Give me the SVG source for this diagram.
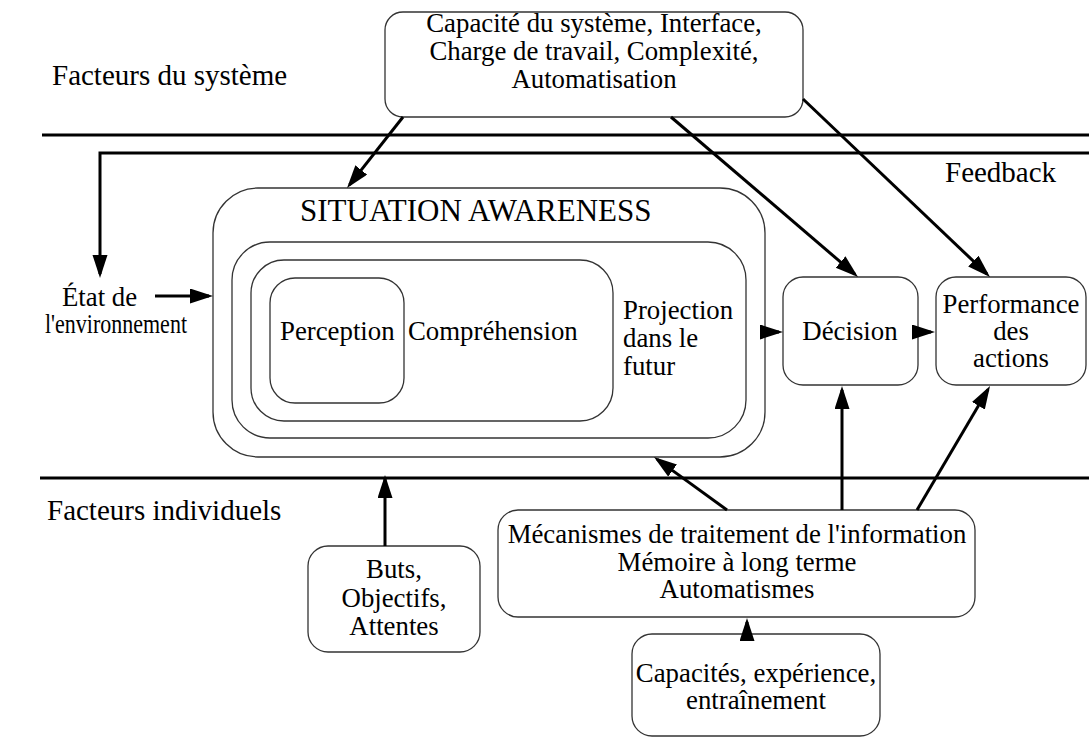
<svg xmlns="http://www.w3.org/2000/svg" width="1089" height="738" viewBox="0 0 1089 738">
  <defs>
    <marker id="ah" markerUnits="userSpaceOnUse" markerWidth="26" markerHeight="16" refX="19" refY="7.5" orient="auto">
      <path d="M0,0 L23,7.5 L0,15 Z" fill="#000"/>
    </marker>
    <style>
      text { font-family: "Liberation Serif", "Times New Roman", serif; fill: #000; }
      .t { font-size: 26.8px; }
      .side { font-size: 29px; }
      .title { font-size: 31px; }
      .c { text-anchor: middle; }
      .box { fill: #fff; stroke: #333; stroke-width: 1.3; }
      .bar { stroke: #000; stroke-width: 3; fill: none; }
      .arr { stroke: #000; stroke-width: 3; fill: none; marker-end: url(#ah); }
    </style>
  </defs>
  <rect width="1089" height="738" fill="#fff"/>

  <g id="bands">
    <line class="bar" x1="42" y1="135" x2="1089" y2="135"/>
    <line class="bar" x1="40" y1="478" x2="1089" y2="478"/>
    <text class="side" x="52" y="85">Facteurs du système</text>
    <text class="side" x="945" y="182">Feedback</text>
    <text class="side" x="47" y="520">Facteurs individuels</text>
  </g>

  <g id="env">
    <text class="t" x="62" y="306">État de</text>
    <text class="t" x="45" y="333" textLength="142" lengthAdjust="spacingAndGlyphs">l'environnement</text>
  </g>

  <g id="sa">
    <rect class="box" x="213" y="188" width="552" height="269" rx="45" ry="45"/>
    <text class="title" x="300" y="221">SITUATION AWARENESS</text>
    <rect class="box" x="232" y="242" width="514" height="196" rx="38" ry="38"/>
    <rect class="box" x="251" y="260" width="362" height="161" rx="33" ry="33"/>
    <rect class="box" x="270" y="278" width="134" height="125" rx="25" ry="25"/>
    <text class="t" x="280" y="340">Perception</text>
    <text class="t" x="408" y="340">Compréhension</text>
    <text class="t" x="623" y="319">Projection</text>
    <text class="t" x="623" y="347">dans le</text>
    <text class="t" x="623" y="375">futur</text>
  </g>

  <g id="system">
    <rect class="box" x="385" y="12" width="418" height="105" rx="18" ry="18"/>
    <text class="t c" x="594" y="32">Capacité du système, Interface,</text>
    <text class="t c" x="594" y="60">Charge de travail, Complexité,</text>
    <text class="t c" x="594" y="88">Automatisation</text>
  </g>

  <g id="decision">
    <rect class="box" x="783" y="277" width="135" height="108" rx="20" ry="20"/>
    <text class="t c" x="850" y="340">Décision</text>
  </g>

  <g id="performance">
    <rect class="box" x="936" y="277" width="150" height="108" rx="20" ry="20"/>
    <text class="t c" x="1011" y="313">Performance</text>
    <text class="t c" x="1011" y="340">des</text>
    <text class="t c" x="1011" y="367">actions</text>
  </g>

  <g id="buts">
    <rect class="box" x="308" y="546" width="172" height="106" rx="20" ry="20"/>
    <text class="t c" x="394" y="578">Buts,</text>
    <text class="t c" x="394" y="607">Objectifs,</text>
    <text class="t c" x="394" y="635">Attentes</text>
  </g>

  <g id="mecanismes">
    <rect class="box" x="498" y="510" width="477" height="107" rx="20" ry="20"/>
    <text class="t c" x="737" y="543">Mécanismes de traitement de l'information</text>
    <text class="t c" x="737" y="571">Mémoire à long terme</text>
    <text class="t c" x="737" y="598">Automatismes</text>
  </g>

  <g id="capacites">
    <rect class="box" x="632" y="634" width="248" height="102" rx="20" ry="20"/>
    <text class="t c" x="756" y="682">Capacités, expérience,</text>
    <text class="t c" x="756" y="709">entraînement</text>
  </g>

  <g id="connectors">
    <path class="arr" d="M1089,153 H100 V274"/>
    <line class="arr" x1="155" y1="296" x2="209" y2="296"/>
    <line class="arr" x1="403" y1="117" x2="349.5" y2="184.9"/>
    <line class="arr" x1="671" y1="117" x2="855" y2="274.4"/>
    <line class="arr" x1="803" y1="99" x2="987.1" y2="274.2"/>
    <line class="arr" x1="765" y1="332" x2="779" y2="332"/>
    <line class="arr" x1="918" y1="332" x2="931" y2="332"/>
    <line class="arr" x1="385" y1="546" x2="385" y2="479"/>
    <line class="arr" x1="727" y1="510" x2="657.2" y2="459.4"/>
    <line class="arr" x1="842" y1="510" x2="842" y2="390"/>
    <line class="arr" x1="917" y1="510" x2="988" y2="389.4"/>
    <line class="arr" x1="747" y1="636" x2="747" y2="622"/>
  </g>
</svg>
